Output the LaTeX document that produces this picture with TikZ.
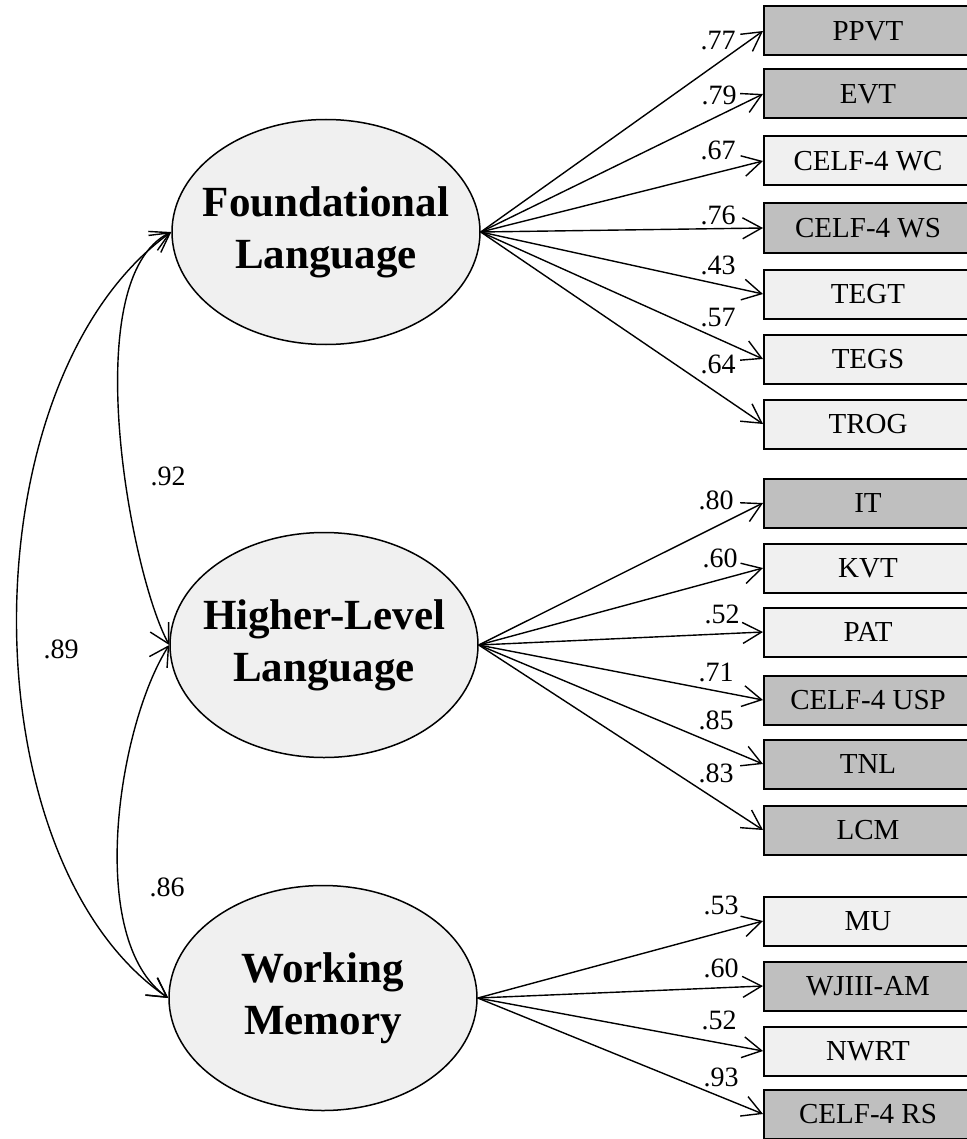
\documentclass[tikz,border=0pt]{standalone}
\usepackage{fontspec}
\setmainfont{Liberation Serif}
\usetikzlibrary{arrows.meta, shapes.geometric}

\begin{document}
\begin{tikzpicture}[
    x=0.5pt, y=-0.5pt,
    >={Straight Barb[length=9.5pt,width=10.5pt]},
    latent/.style={ellipse, draw=black, line width=0.75pt, fill=gray!12,
        minimum width=154pt, minimum height=112.5pt,
        inner xsep=-8pt, inner ysep=0pt,
        align=center, font=\bfseries\fontsize{21.5}{26}\selectfont},
    obs/.style={rectangle, draw=black, line width=1pt, anchor=west,
        minimum width=104pt, minimum height=24.5pt, inner sep=0pt,
        font=\fontsize{14.5}{16}\selectfont},
    darkbox/.style={obs, fill=gray!50},
    lightbox/.style={obs, fill=gray!12},
    load/.style={->, line width=0.7pt},
    cov/.style={<->, line width=0.7pt},
    coef/.style={font=\fontsize{14}{16}\selectfont, inner sep=0pt}
]
    \useasboundingbox (0,0) rectangle (967,1139);

    % ---- latent factors ----
    \node[latent] (F) at (326,232) {Foundational\\Language};
    \node[latent] (H) at (324,645) {Higher-Level\\Language};
    \node[latent] (W) at (323,998) {Working\\Memory};

    % ---- indicators ----
    \foreach \n/\y/\txt/\sty in {ppvt/31/PPVT/darkbox, evt/94/EVT/darkbox,
        wc/161/CELF-4 WC/lightbox, ws/228/CELF-4 WS/darkbox,
        tegt/294/TEGT/lightbox, tegs/359/TEGS/lightbox, trog/424/TROG/lightbox,
        it/503/IT/darkbox, kvt/568/KVT/lightbox, pat/632/PAT/lightbox,
        usp/700/CELF-4 USP/darkbox, tnl/764/TNL/darkbox, lcm/830/LCM/darkbox,
        mu/921/MU/lightbox, am/986/WJIII-AM/darkbox, nwrt/1051/NWRT/lightbox,
        rs/1114/CELF-4 RS/darkbox} {
        \node[\sty] (\n) at (763,\y) {\txt};
    }

    % ---- loadings ----
    \foreach \f/\n/\v/\lx/\ly in {F/ppvt/.77/718/41, F/evt/.79/719/95,
        F/wc/.67/718/150, F/ws/.76/718/215, F/tegt/.43/718/265,
        F/tegs/.57/718/318, F/trog/.64/718/364,
        H/it/.80/716/500, H/kvt/.60/720/558, H/pat/.52/722/614,
        H/usp/.71/716/672, H/tnl/.85/716/720, H/lcm/.83/716/773,
        W/mu/.53/721/905, W/am/.60/721/968, W/nwrt/.52/719/1020,
        W/rs/.93/721/1077} {
        \draw[load] (\f.east) -- (\n.west);
        \node[coef] (c-\n) at (\lx,\ly) {\v};
    }

    % ---- factor correlations ----
    \draw[cov] (F.west) .. controls (76,278) and (130,573) .. (H.west);
    \draw[cov] (H.west) .. controls (118,725) and (85,940) .. (W.west);
    \draw[cov] (F.west) .. controls (-34,380) and (-34,860) .. (W.west);
    \node[coef] (r-fh) at (168,476) {.92};
    \node[coef] (r-fw) at (61,649) {.89};
    \node[coef] (r-hw) at (167,887) {.86};
\end{tikzpicture}
\end{document}
